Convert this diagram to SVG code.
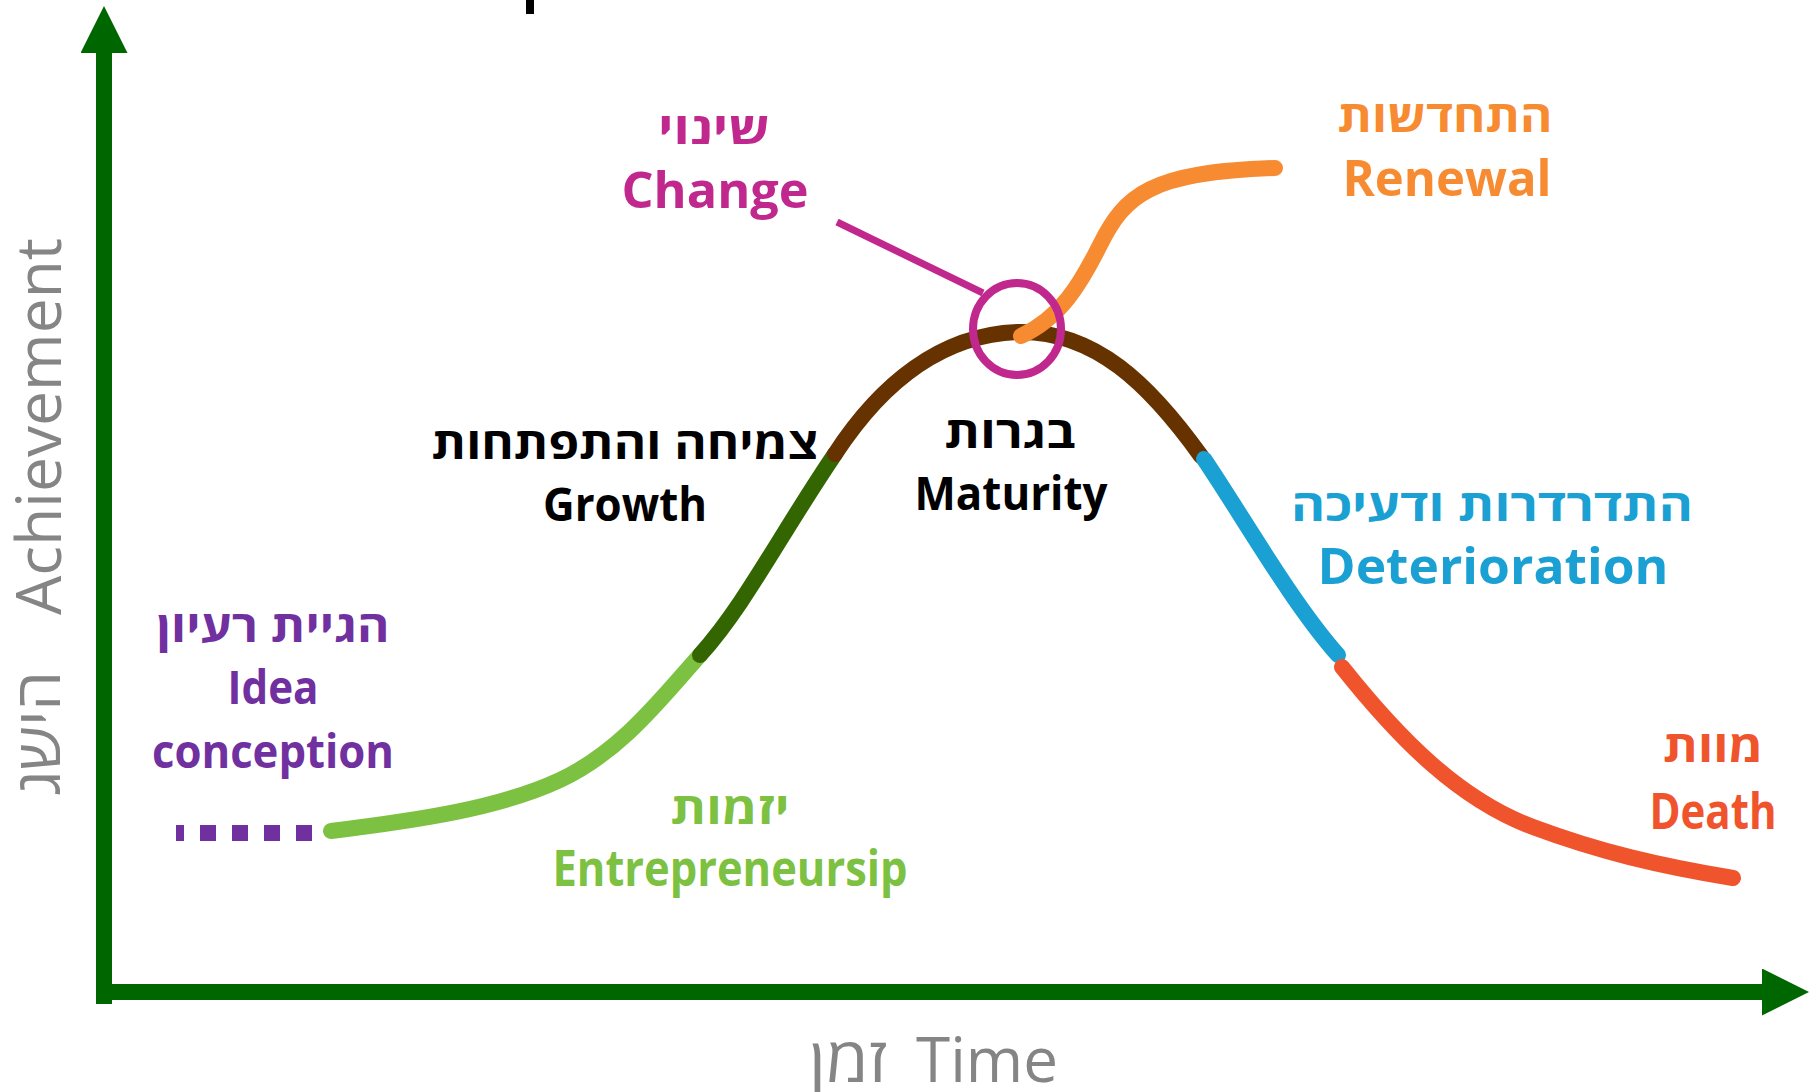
<svg xmlns="http://www.w3.org/2000/svg" width="1819" height="1092" viewBox="0 0 1819 1092">
<style>
text{font-family:"Open Sans","DejaVu Sans",sans-serif;text-anchor:middle}
.he{font-weight:700;font-size:44px}
.sb{font-weight:700;font-size:51px}
.bd{font-weight:700;font-size:46px}
.ax{font-weight:400;font-size:62px;fill:#858585}
.seg{fill:none;stroke-width:16;stroke-linecap:round}
</style>
<defs>
<marker id="ah" markerUnits="userSpaceOnUse" markerWidth="47" markerHeight="47" refX="0" refY="23.5" orient="auto">
<path d="M0,0 L47,23.5 L0,47 Z" fill="#006600"/>
</marker>
</defs>
<rect x="0" y="0" width="1819" height="1092" fill="#ffffff"/>
<rect x="526" y="0" width="8" height="14" fill="#000000"/>
<g id="axes" stroke="#006600" stroke-width="16" fill="none">
<line x1="104" y1="1004" x2="104" y2="53" marker-end="url(#ah)"/>
<line x1="96" y1="992" x2="1762" y2="992" marker-end="url(#ah)"/>
</g>
<g id="connectors">
<line x1="176" y1="833" x2="312" y2="833" stroke="#7030A0" stroke-width="16" stroke-dasharray="16 16" stroke-dashoffset="8"/>
<path class="seg" stroke="#7DC142" d="M331,831 C420,820 500,808 560,780 C620,752 660,700 700,655"/>
<path class="seg" stroke="#336600" d="M700,655 C745,605 780,535 835,454"/>
<path class="seg" stroke="#663300" d="M835,454 C880,385 940,335 1017,332 C1095,330 1150,385 1201,456"/>
<path class="seg" stroke="#1AA0D2" d="M1204,459 C1245,520 1292,603 1338,655"/>
<path class="seg" stroke="#F0542D" d="M1342,667 C1400,740 1460,800 1533,827 C1600,852 1660,866 1733,878"/>
<path class="seg" stroke="#F78B31" d="M1021,336 C1060,318 1080,285 1100,245 C1125,195 1150,172 1275,168"/>
<line x1="837" y1="222" x2="983" y2="293" stroke="#C0288E" stroke-width="7"/>
<ellipse cx="1017" cy="329" rx="44" ry="46" fill="none" stroke="#C0288E" stroke-width="8"/>
</g>
<g id="change" fill="#C0288E">
<text class="he" x="714" y="144" textLength="112" lengthAdjust="spacingAndGlyphs">שינוי</text>
<text class="sb" x="715" y="208" textLength="187" lengthAdjust="spacingAndGlyphs">Change</text>
</g>
<g id="renewal" fill="#F78B31">
<text class="he" x="1445" y="132" textLength="215" lengthAdjust="spacingAndGlyphs">התחדשות</text>
<text class="sb" x="1447" y="196" textLength="209" lengthAdjust="spacingAndGlyphs">Renewal</text>
</g>
<g id="growth" fill="#000000">
<text class="he" x="625" y="459" textLength="387" lengthAdjust="spacingAndGlyphs">צמיחה והתפתחות</text>
<text class="bd" x="625" y="521" textLength="164" lengthAdjust="spacingAndGlyphs">Growth</text>
</g>
<g id="maturity" fill="#000000">
<text class="he" x="1010" y="448" textLength="131" lengthAdjust="spacingAndGlyphs">בגרות</text>
<text class="bd" x="1011" y="510" textLength="193" lengthAdjust="spacingAndGlyphs">Maturity</text>
</g>
<g id="deterioration" fill="#1AA0D2">
<text class="he" x="1492" y="521" textLength="402" lengthAdjust="spacingAndGlyphs">התדרדרות ודעיכה</text>
<text class="sb" x="1493" y="584" textLength="351" lengthAdjust="spacingAndGlyphs">Deterioration</text>
</g>
<g id="idea" fill="#7030A0">
<text class="he" x="273" y="642" textLength="233" lengthAdjust="spacingAndGlyphs">הגיית רעיון</text>
<text class="bd" x="273" y="704" textLength="91" lengthAdjust="spacingAndGlyphs">Idea</text>
<text class="bd" x="273" y="768" textLength="242" lengthAdjust="spacingAndGlyphs">conception</text>
</g>
<g id="entrepreneurship" fill="#7DC142">
<text class="he" x="730" y="824" textLength="119" lengthAdjust="spacingAndGlyphs">יזמות</text>
<text class="sb" x="730" y="886" textLength="355" lengthAdjust="spacingAndGlyphs">Entrepreneursip</text>
</g>
<g id="death" fill="#F0542D">
<text class="he" x="1713" y="762" textLength="100" lengthAdjust="spacingAndGlyphs">מוות</text>
<text class="sb" x="1713" y="829" textLength="127" lengthAdjust="spacingAndGlyphs">Death</text>
</g>
<g id="axis-labels">
<text class="ax" x="848" y="1082" textLength="78" lengthAdjust="spacingAndGlyphs">זמן</text>
<text class="ax" x="987" y="1082" textLength="142" lengthAdjust="spacingAndGlyphs">Time</text>
<text class="ax" transform="translate(61,426.5) rotate(-90)" x="0" y="0" textLength="377" lengthAdjust="spacingAndGlyphs">Achievement</text>
<text class="ax" transform="translate(60,733.5) rotate(-90)" x="0" y="0" textLength="125" lengthAdjust="spacingAndGlyphs">הישג</text>
</g>
</svg>
